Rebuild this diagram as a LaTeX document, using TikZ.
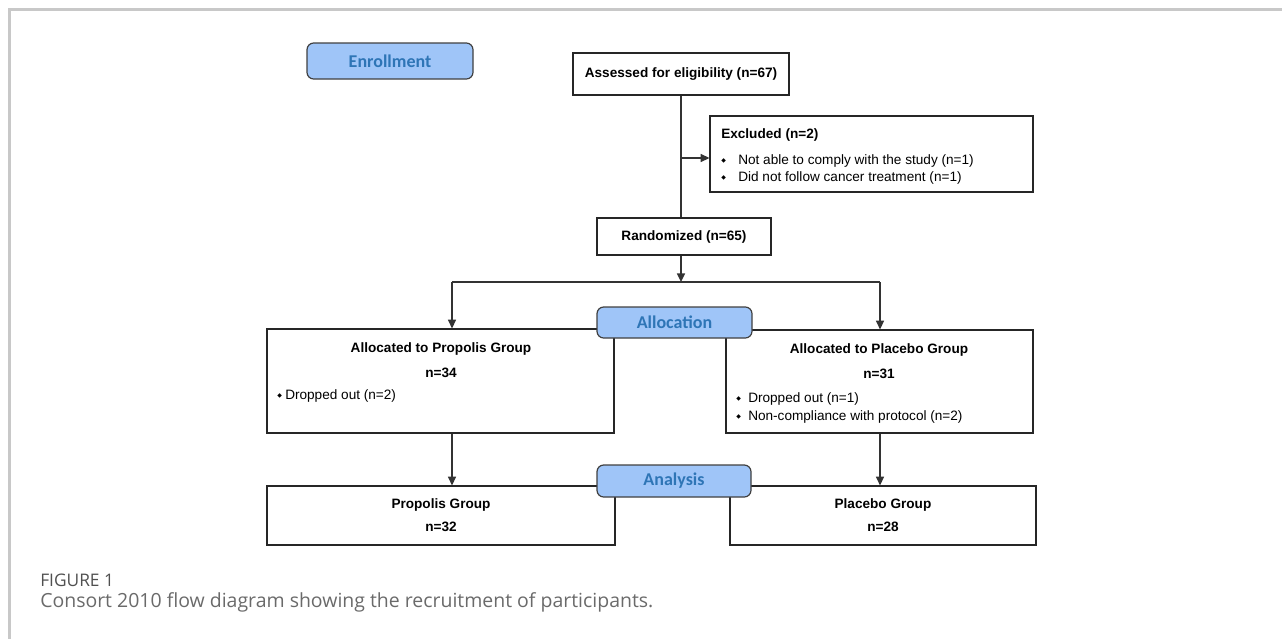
\documentclass[tikz,border=0pt]{standalone}
\usepackage{fontspec}
\setmainfont{Liberation Sans}
\newfontfamily\labelfont{Carlito}
\newfontfamily\capfont{Open Sans}
\newfontfamily\symfont{DejaVu Sans}
\usetikzlibrary{arrows.meta}
\definecolor{lblfill}{HTML}{9FC5F8}
\definecolor{lbltext}{HTML}{2E75B6}
\definecolor{lineclr}{HTML}{333333}
\definecolor{framegray}{HTML}{C8C8C8}
\definecolor{capgray}{HTML}{6A6A6A}
\definecolor{figgray}{HTML}{505050}
\newcommand{\bul}{\raisebox{0.35ex}{\symfont\fontsize{4.5}{5}\selectfont ◆}}
\begin{document}
\begin{tikzpicture}[x=0.75pt,y=-0.75pt,
 size/.style 2 args={minimum width=#1*0.75pt, minimum height=#2*0.75pt},
 box/.style={draw=black!85, line width=0.9pt, fill=white, rectangle, inner sep=0pt},
 lbl/.style={draw=black!75, line width=0.9pt, fill=lblfill, rounded corners=5pt, inner sep=0pt, text=lbltext, font=\labelfont\bfseries\fontsize{13.5}{16}\selectfont},
 txt/.style={inner sep=0pt, font=\fontsize{10.2}{12}\selectfont},
 btxt/.style={inner sep=0pt, font=\bfseries\fontsize{10.2}{12}\selectfont},
 conn/.style={draw=lineclr, line width=1.1pt},
 arr/.style={conn, -{Triangle[length=6.5pt,width=6pt]}}]

\useasboundingbox (0,0) rectangle (1282,639);
\draw[framegray, line width=1.6pt] (9.5,639) -- (9.5,9.5) -- (1282,9.5);

% boxes
\node[box, btxt, size={216}{42}] (assess) at (681,74) {Assessed for eligibility (n=67)};
\node[box, size={323}{76}] (excl) at (871.5,154) {};
\node[btxt, anchor=west] (exclT) at (721,135) {Excluded (n=2)};
\node[txt, anchor=west] (excl1) at (721,161) {\makebox[12.75pt][l]{\bul}Not able to comply with the study (n=1)};
\node[txt, anchor=west] (excl2) at (721,178) {\makebox[12.75pt][l]{\bul}Did not follow cancer treatment (n=1)};
\node[box, btxt, size={174}{37}] (rand) at (684,236.5) {Randomized (n=65)};

\node[box, size={347}{104}] (propA) at (440.5,381) {};
\node[btxt] (propAT) at (441,349) {Allocated to Propolis Group};
\node[btxt] (propAN) at (441,373) {n=34};
\node[txt, anchor=west] (propA1) at (277,396) {\makebox[6pt][l]{\bul}Dropped out (n=2)};

\node[box, size={307}{103}] (placA) at (879.5,381.5) {};
\node[btxt] (placAT) at (879,350) {Allocated to Placebo Group};
\node[btxt] (placAN) at (879,374) {n=31};
\node[txt, anchor=west] (placA1) at (736,399) {\makebox[9pt][l]{\bul}Dropped out (n=1)};
\node[txt, anchor=west] (placA2) at (736,417) {\makebox[9pt][l]{\bul}Non-compliance with protocol (n=2)};

\node[box, size={348}{59}] (propG) at (441,515.5) {};
\node[btxt] (propGT) at (441,505) {Propolis Group};
\node[btxt] (propGN) at (441,527) {n=32};
\node[box, size={306}{59}] (placG) at (883,515.5) {};
\node[btxt] (placGT) at (883,505) {Placebo Group};
\node[btxt] (placGN) at (883,527) {n=28};

% stage labels
\node[lbl, size={166}{36}] (enroll) at (390,61) {Enrollment};
\node[lbl, size={155}{31}] (alloc) at (674.5,322.5) {Allocation};
\node[lbl, size={154}{32}] (anal) at (674,481) {Analysis};

% connectors
\coordinate (j1) at (681,158);
\coordinate (split) at (681,282);
\coordinate (L) at (452,282);
\coordinate (R) at (880,282);
\draw[conn] (assess.south) -- (assess.south |- rand.north);
\draw[arr] (j1) -- (j1 -| excl.west);
\draw[arr] (split |- rand.south) -- (split);
\draw[conn] (L) -- (R);
\draw[arr] (L) -- (L |- propA.north);
\draw[arr] (R) -- (R |- placA.north);
\draw[arr] (L |- propA.south) -- (L |- propG.north);
\draw[arr] (R |- placA.south) -- (R |- placG.north);

% caption
\node[anchor=west, inner sep=0pt, text=figgray, font=\capfont\fontsize{13}{15}\selectfont] (figlab) at (40,580) {FIGURE 1};
\node[anchor=west, inner sep=0pt, text=capgray, font=\capfont\fontsize{14.6}{17}\selectfont] (figcap) at (40,602) {Consort 2010 flow diagram showing the recruitment of participants.};
\end{tikzpicture}
\end{document}
